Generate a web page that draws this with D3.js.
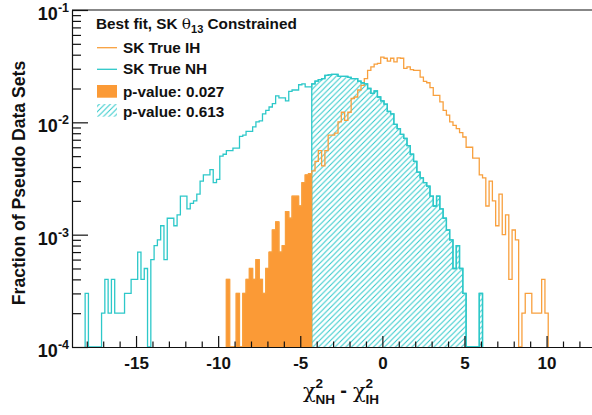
<!DOCTYPE html>
<html><head><meta charset="utf-8">
<script src="https://cdn.jsdelivr.net/npm/d3@7"></script>
<style>
body{margin:0;background:#fff}
svg{display:block}
text{font-family:"Liberation Sans",Arial,Helvetica,sans-serif;font-weight:bold;fill:#111}
</style>
</head><body>
<svg id="c" width="592" height="415"></svg>
<script>
// ---------------- data ----------------
const N_SETS = 10000;            // pseudo data sets (fraction = count / N_SETS)
const BIN_WIDTH = 0.2;
const P_CUT = -4.3;              // observed value: split of the p-value regions

// SK True NH : counts per bin, first bin centred at -18.0
const NH_FIRST = -18.0;
const NH_COUNTS = [
  3,0,0,0,0,2,4,2,4,2,
  2,2,3,3,4,4,7,4,5,0,
  6,8,9,12,6,14,14,12,15,22,
  22,17,19,20,23,30,34,34,38,29,
  31,50,52,56,56,59,59,75,77,83,
  83,91,101,103,119,128,137,147,172,165,
  165,155,189,194,194,216,220,207,207,220,
  233,240,245,262,264,267,267,257,257,257,
  251,245,245,233,225,220,200,181,190,168,
  155,145,125,119,96,88,78,72,62,52,
  45,36,32,29,27,22,18,22,17,14,
  11,9,5,8,5,3,0,0,0,0,
  3
];

// SK True IH : counts per bin, first bin centred at -9.4
const IH_FIRST = -9.4;
const IH_COUNTS = [
  4,0,0,3,0,3,4,5,4,6,
  4,3,5,7,11,13,7,8,16,14,
  22,22,18,29,34,35,37,45,56,41,
  56,77,77,80,101,123,104,123,163,168,
  194,213,245,290,312,330,335,380,372,350,
  372,345,375,372,302,312,295,290,290,253,
  232,225,204,174,174,152,128,116,101,94,
  88,81,74,60,60,48,48,34,32,18,
  30,20,12,23,10,15,4,11,9,0,
  2,3,3,2,2,2,4,2
];

const X_MAJOR = [-15,-10,-5,0,5,10];
const X_MINOR = [-18,-17,-16,-14,-13,-12,-11,-9,-8,-7,-6,-4,-3,-2,-1,1,2,3,4,6,7,8,9,11,12];
const Y_DECADES = [1e-4,1e-3,1e-2,1e-1];
const Y_EXPONENTS = ["-4","-3","-2","-1"];
const LEGEND_TITLE = ["Best fit, SK ", "θ", "13", " Constrained"];
const LEGEND_LABELS = ["SK True IH","SK True NH","p-value: 0.027","p-value: 0.613"];

// ---------------- styles ----------------
const ORANGE_LINE = "#f8a03e";
const ORANGE_FILL = "#fb9a36";
const CYAN = "#2dc8c9";
const GREEK = "'DejaVu Serif', 'Liberation Serif', serif";

const svg = d3.select("#c");
const x = d3.scaleLinear().domain([-18.9, 12.9]).range([72, 594.2]);
const y = d3.scaleLog().domain([1e-4, 1e-1]).range([347, 10]);
const YMIN = 1e-4;

const defs = svg.append("defs");
const pat = defs.append("pattern").attr("id","hatch").attr("patternUnits","userSpaceOnUse")
  .attr("width",5.5).attr("height",5.5);
pat.append("path").attr("d","M0,5.5 L5.5,0 M-1,1 L1,-1 M4.5,6.5 L6.5,4.5")
  .attr("stroke",CYAN).attr("stroke-width",1).attr("fill","none");

function bins(first, counts){
  return counts.map((c,i)=>({lo: first + i*BIN_WIDTH - BIN_WIDTH/2,
                             hi: first + i*BIN_WIDTH + BIN_WIDTH/2,
                             v: Math.max(c / N_SETS, YMIN)}));
}
function stepPoints(bs){
  const pts = [];
  if(!bs.length) return pts;
  pts.push([bs[0].lo, YMIN]);
  bs.forEach(b=>{ pts.push([b.lo,b.v]); pts.push([b.hi,b.v]); });
  pts.push([bs[bs.length-1].hi, YMIN]);
  return pts;
}
const line = d3.line().x(d=>x(d[0])).y(d=>y(d[1]));

const nh = bins(NH_FIRST, NH_COUNTS);
const ih = bins(IH_FIRST, IH_COUNTS);
const nhRight = nh.filter(b=>b.lo >= P_CUT - 1e-6);
const ihLeft = ih.filter(b=>b.hi <= P_CUT + 1e-6);

const plot = svg.append("g");
// hatched NH region (p-value 0.613)
plot.append("path").attr("d", line(stepPoints(nhRight)))
  .attr("fill","url(#hatch)").attr("stroke",CYAN).attr("stroke-width",1.3);
// filled IH region (p-value 0.027)
plot.append("path").attr("d", line(stepPoints(ihLeft)))
  .attr("fill",ORANGE_FILL).attr("stroke",ORANGE_FILL).attr("stroke-width",1);
// outlines
plot.append("path").attr("d", line(stepPoints(ih)))
  .attr("fill","none").attr("stroke",ORANGE_LINE).attr("stroke-width",1.3);
plot.append("path").attr("d", line(stepPoints(nh)))
  .attr("fill","none").attr("stroke",CYAN).attr("stroke-width",1.3);

// ---------------- axes ----------------
const axisCol = "#111";
const gx = svg.append("g").attr("transform","translate(0,347)");
gx.call(d3.axisBottom(x).tickValues(X_MAJOR).tickSize(-11).tickSizeOuter(0).tickPadding(10)
  .tickFormat(d=>d3.format("d")(d)));
gx.attr("font-family",null).attr("font-size",null);
gx.select(".domain").attr("stroke",axisCol).attr("stroke-width",1.2);
gx.selectAll(".tick line").attr("stroke",axisCol).attr("stroke-width",1.2);
gx.selectAll(".tick text").style("font-size","17px").attr("fill","#111")
  .text(d=> d<0 ? "-"+Math.abs(d) : String(d));
const gxm = svg.append("g").attr("transform","translate(0,347)");
gxm.call(d3.axisBottom(x).tickValues(X_MINOR).tickSize(-5.5).tickSizeOuter(0).tickFormat(""));
gxm.select(".domain").remove();
gxm.selectAll(".tick line").attr("stroke",axisCol).attr("stroke-width",1.2);

const yMinor = [];
Y_DECADES.slice(0,3).forEach(d=>{ for(let k=2;k<=9;k++) yMinor.push(d*k); });
const gy = svg.append("g").attr("transform","translate(72,0)");
gy.call(d3.axisLeft(y).tickValues(Y_DECADES).tickSize(-16).tickSizeOuter(0).tickFormat(""));
gy.select(".domain").attr("stroke",axisCol).attr("stroke-width",1.2);
gy.selectAll(".tick line").attr("stroke",axisCol).attr("stroke-width",1.2);
const gym = svg.append("g").attr("transform","translate(72,0)");
gym.call(d3.axisLeft(y).tickValues(yMinor).tickSize(-9).tickSizeOuter(0).tickFormat(""));
gym.select(".domain").remove();
gym.selectAll(".tick line").attr("stroke",axisCol).attr("stroke-width",1.2);

// decade labels 10^n
Y_DECADES.forEach((d,i)=>{
  const t = svg.append("text").attr("x",69).attr("y",y(d)+10).attr("text-anchor","end")
    .style("font-size","18px");
  t.append("tspan").text("10");
  t.append("tspan").style("font-size","12.5px").attr("dy",-8).text(Y_EXPONENTS[i]);
});

// top frame line
svg.append("line").attr("x1",72).attr("x2",x.range()[1]).attr("y1",10).attr("y2",10)
  .attr("stroke",axisCol).attr("stroke-width",1.2);

// axis titles
svg.append("text").attr("transform","translate(25,183) rotate(-90)")
  .attr("text-anchor","middle").style("font-size","17.6px").text("Fraction of Pseudo Data Sets");

const xt = svg.append("g");
function chiTerm(x0, sub){
  xt.append("text").attr("x",x0).attr("y",398)
    .style("font-size","21px").style("font-family",GREEK).style("font-weight","normal").text("χ");
  xt.append("text").attr("x",x0+12.5).attr("y",388).style("font-size","13.5px").text("2");
  xt.append("text").attr("x",x0+12.5).attr("y",404).style("font-size","13.5px").text(sub);
}
chiTerm(303,"NH");
xt.append("text").attr("x",343.5).attr("y",397).attr("text-anchor","middle").style("font-size","20px").text("-");
chiTerm(353,"IH");

// ---------------- legend ----------------
const lg = svg.append("g");
const tt = lg.append("text").attr("x",96).attr("y",29).style("font-size","15.3px");
tt.append("tspan").text(LEGEND_TITLE[0]);
tt.append("tspan").style("font-family",GREEK).style("font-weight","normal").text(LEGEND_TITLE[1]);
tt.append("tspan").style("font-size","11px").attr("dy",4).text(LEGEND_TITLE[2]);
tt.append("tspan").attr("dy",-4).text(LEGEND_TITLE[3]);

const rowsY = [53.3, 74, 96.7, 116.7];
lg.append("line").attr("x1",97).attr("x2",117).attr("y1",47.7).attr("y2",47.7)
  .attr("stroke",ORANGE_LINE).attr("stroke-width",1.3);
lg.append("line").attr("x1",97).attr("x2",117).attr("y1",69.3).attr("y2",69.3)
  .attr("stroke",CYAN).attr("stroke-width",1.3);
lg.append("rect").attr("x",97).attr("y",85).attr("width",20).attr("height",12.7).attr("fill",ORANGE_FILL);
lg.append("rect").attr("x",97).attr("y",104).attr("width",20).attr("height",12.7).attr("fill","url(#hatch)");
LEGEND_LABELS.forEach((s,i)=>{
  lg.append("text").attr("x",123).attr("y",rowsY[i]).style("font-size","15.3px").text(s);
});
</script>
</body></html>
